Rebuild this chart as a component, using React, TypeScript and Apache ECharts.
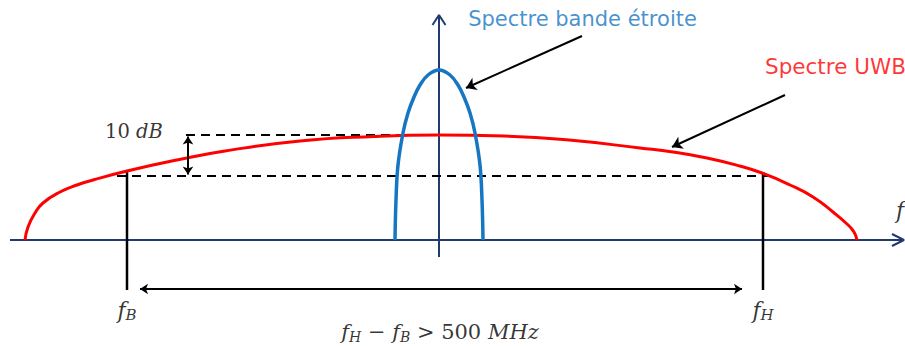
import React, { useEffect, useRef } from "react";
import * as echarts from "echarts";

// Frequency axis: arbitrary units, 0 = centre of the narrow-band carrier.
// Level axis: arbitrary power-spectral-density units.
const uwbFreq = [-41.4, -41.1, -40.4, -39.6, -37.9, -36.2, -34.6, -31.2, -26.2, -21.4, -13.9, -6.5, 0, 6.5, 13.0, 20.1, 23.4, 26.8, 30.1, 32.3, 35.1, 37.4, 39.4, 40.8, 41.5, 41.8];
const uwbLevel = [0, 1.3, 2.7, 3.7, 4.8, 5.5, 6.0, 6.9, 8.0, 8.9, 9.9, 10.35, 10.5, 10.4, 10.0, 9.2, 8.8, 8.2, 7.4, 6.7, 5.5, 4.3, 2.8, 1.6, 0.8, 0];

const nbFreq = [-4.4, -4.3, -4.1, -3.6, -3.1, -2.5, -1.9, -1.1, 0, 1.1, 1.9, 2.5, 3.1, 3.6, 4.1, 4.3, 4.4];
const nbLevel = [0, 4.0, 7.5, 10.7, 12.7, 14.3, 15.5, 16.5, 17.0, 16.5, 15.5, 14.3, 12.7, 10.7, 7.5, 4.0, 0];

const peakLevel = 10.5;
const edgeLevel = 6.4;
const fB = -31.2;
const fH = 32.4;

const labels = {
  narrow: "Spectre bande étroite",
  uwb: "Spectre UWB",
  dB: "10",
  bandwidth: "500",
};

const NAVY = "#1f3b70";
const BLUE = "#1676c2";
const RED = "#ff0000";

export default function App() {
  const ref = useRef<HTMLDivElement>(null);
  useEffect(() => {
    if (!ref.current) return;
    const chart = echarts.init(ref.current, null, { renderer: "svg" });
    const pairs = (xs: number[], ys: number[]) => xs.map((x, i) => [x, ys[i]]);
    const plain = (data: number[][], color: string, width: number, extra: any = {}) => ({
      type: "line",
      data,
      symbol: "none",
      silent: true,
      lineStyle: { color, width, ...extra },
      z: 2,
    });
    const mathFont = "DejaVu Serif";
    const INK = "#000";
    const textPt = (value: number[], label: any) => ({
      value,
      label: { show: true, position: "inside", ...label },
    });
    const sub = (size: number, big: number) => ({
      i: { fontFamily: mathFont, fontSize: big, fontStyle: "italic", color: INK, lineHeight: big + 2 },
      n: { fontFamily: mathFont, fontSize: big, color: INK, lineHeight: big + 2 },
      s: { fontFamily: mathFont, fontSize: size, fontStyle: "italic", color: INK, lineHeight: size, verticalAlign: "bottom" },
    });
    chart.setOption({
      animation: false,
      backgroundColor: "#ffffff",
      grid: { left: 0, right: 0, top: 0, bottom: 0 },
      xAxis: { type: "value", min: -43.9, max: 46.6, show: false },
      yAxis: { type: "value", min: -10.6, max: 24.0, show: false },
      series: [
        // axes
        plain([[-42.9, 0], [46.4, 0]], NAVY, 2),
        plain([[45.3, 0.6], [46.5, 0], [45.3, -0.6]], NAVY, 2),
        plain([[0, -1.7], [0, 22.4]], NAVY, 2),
        plain([[-0.65, 21.5], [0, 22.5], [0.65, 21.5]], NAVY, 2),
        // dashed reference levels
        plain([[-25.3, peakLevel], [-3.9, peakLevel]], "#000", 2, { type: [9, 6] }),
        plain([[-32.2, edgeLevel], [33.8, edgeLevel]], "#000", 2, { type: [9, 6] }),
        // band edges
        plain([[fB, 6.9], [fB, -5.0]], "#000", 2.5),
        plain([[fH, 6.8], [fH, -5.0]], "#000", 2.5),
        // spectra
        { ...plain(pairs(uwbFreq, uwbLevel), RED, 3), smooth: 0.5, z: 3 },
        { ...plain(pairs(nbFreq, nbLevel), BLUE, 3.5), smooth: 0.4, z: 4 },
        // arrows
        {
          type: "lines",
          coordinateSystem: "cartesian2d",
          silent: true,
          z: 5,
          symbol: ["arrow", "arrow"],
          symbolSize: 8,
          lineStyle: { color: "#000", width: 2, opacity: 1 },
          data: [
            { coords: [[-25.1, peakLevel - 0.15], [-25.1, edgeLevel + 0.15]] },
            { coords: [[-29.9, -4.9], [30.3, -4.9]] },
          ],
        },
        {
          type: "lines",
          coordinateSystem: "cartesian2d",
          silent: true,
          z: 5,
          symbol: ["none", "arrow"],
          symbolSize: 10,
          lineStyle: { color: "#000", width: 2, opacity: 1 },
          data: [
            { coords: [[14.3, 20.4], [2.7, 15.2]] },
            { coords: [[34.6, 14.5], [23.3, 9.3]] },
          ],
        },
        // texts
        {
          type: "scatter",
          symbolSize: 0,
          silent: true,
          z: 6,
          data: [
            textPt([14.35, 22.1], {
              formatter: labels.narrow,
              color: BLUE,
              fontSize: 21,
              fontFamily: "DejaVu Sans",
              align: "center",
              verticalAlign: "middle",
            }),
            textPt([32.6, 17.4], {
              formatter: labels.uwb,
              color: RED,
              fontSize: 21.5,
              fontFamily: "DejaVu Sans",
              align: "left",
              verticalAlign: "middle",
            }),
            textPt([-30.5, 10.9], {
              formatter: `{n|${labels.dB} }{i|dB}`,
              align: "center",
              verticalAlign: "middle",
              rich: sub(14, 19.5),
            }),
            textPt([fB, -7.0], {
              formatter: "{i|f}{s|B}",
              align: "center",
              verticalAlign: "middle",
              rich: sub(15, 22),
            }),
            textPt([fH, -7.0], {
              formatter: "{i|f}{s|H}",
              align: "center",
              verticalAlign: "middle",
              rich: sub(15, 22),
            }),
            textPt([0.1, -9.2], {
              formatter: `{i|f}{s|H}{n| − }{i|f}{s|B}{n| > ${labels.bandwidth} }{i|MHz}`,
              align: "center",
              verticalAlign: "middle",
              rich: sub(14, 21),
            }),
            textPt([45.7, 3.0], {
              formatter: "f",
              align: "left",
              verticalAlign: "middle",
              fontFamily: mathFont,
              fontSize: 22,
              fontStyle: "italic",
              color: INK,
            }),
          ],
        },
      ],
    });
    return () => chart.dispose();
  }, []);
  return (
    <div
      ref={ref}
      style={{ position: "absolute", left: 0, top: 0, width: 905, height: 346, background: "#fff" }}
    />
  );
}
